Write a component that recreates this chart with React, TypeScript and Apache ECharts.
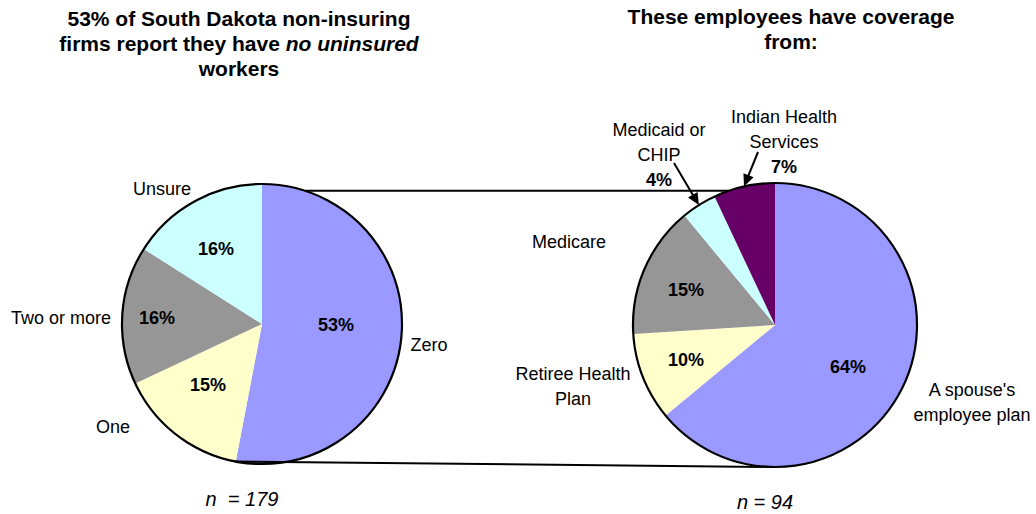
import React, { useEffect, useRef } from 'react';
import * as echarts from 'echarts';

// ---------------- data ----------------
const leftCategories = ['Zero', 'One', 'Two or more', 'Unsure'];
const leftLabelText = ['Zero', 'One', 'Two or more', 'Unsure'];
const leftValues = [53, 15, 16, 16];
const leftN = 179;

const rightCategories = [
  "A spouse's employee plan",
  'Retiree Health Plan',
  'Medicare',
  'Medicaid or CHIP',
  'Indian Health Services',
];
const rightLabelText = [
  "A spouse's\nemployee plan",
  'Retiree Health\nPlan',
  'Medicare',
  'Medicaid or\nCHIP',
  'Indian Health\nServices',
];
const rightValues = [64, 10, 15, 4, 7];
const rightN = 94;

const leftTitle = '53% of South Dakota non-insuring\nfirms report they have {i|no uninsured}\nworkers';
const rightTitle = 'These employees have coverage\nfrom:';

// ---------------- styles / layout ----------------
const FONT = "'Liberation Sans', Arial, Helvetica, sans-serif";
const leftColors = ['#9999FF', '#FFFFCC', '#969696', '#CCFFFF'];
const rightColors = ['#9999FF', '#FFFFCC', '#969696', '#CCFFFF', '#660066'];

const LEFT = { cx: 262, cy: 324, r: 140 };
const RIGHT = { cx: 775, cy: 325, r: 142 };

const leftNamePos: ([number, number] | null)[] = [[429, 345], [113, 427], [61, 318], [162, 189]];
const leftPctPos: ([number, number] | null)[] = [[336, 325], [208, 385], [157, 318], [216, 249]];
const rightNamePos: ([number, number] | null)[] = [[972, 402], [573, 386], [569, 242], [659, 155], [784, 142]];
const rightPctPos: ([number, number] | null)[] = [[848, 367], [686, 360], [686, 290], null, null];
const rightArrowFrom: ([number, number] | null)[] = [null, null, null, [674, 163], [758, 152]];

function midAngle(values: number[], i: number) {
  const total = values.reduce((a, b) => a + b, 0);
  let cum = 0;
  for (let k = 0; k < i; k++) cum += values[k];
  return (360 * (cum + values[i] / 2)) / total;
}
function endAngle(values: number[], i: number) {
  const total = values.reduce((a, b) => a + b, 0);
  let cum = 0;
  for (let k = 0; k <= i; k++) cum += values[k];
  return (360 * cum) / total;
}
function pointAt(p: { cx: number; cy: number; r: number }, deg: number): [number, number] {
  const a = (deg * Math.PI) / 180;
  return [p.cx + p.r * Math.sin(a), p.cy - p.r * Math.cos(a)];
}

function buildPie(
  geo: { cx: number; cy: number; r: number },
  cats: string[],
  labelText: string[],
  values: number[],
  colors: string[],
  namePos: ([number, number] | null)[],
  pctPos: ([number, number] | null)[]
) {
  const common = {
    type: 'pie',
    center: [geo.cx, geo.cy],
    radius: geo.r,
    startAngle: 90,
    clockwise: true,
    avoidLabelOverlap: false,
    silent: true,
    emphasis: { disabled: true },
    labelLine: { show: false },
  };
  const main = {
    ...common,
    z: 2,
    label: {
      position: 'inside',
      formatter: (p: any) => `${p.value}%`,
      color: '#000',
      fontFamily: FONT,
      fontSize: 18,
      fontWeight: 'bold',
    },
    labelLayout: (p: any) => {
      const pos = pctPos[p.dataIndex];
      return pos ? { x: pos[0], y: pos[1], align: 'center', verticalAlign: 'middle' } : {};
    },
    data: values.map((v, i) => ({
      name: cats[i],
      value: v,
      itemStyle: { color: colors[i], borderWidth: 0 },
      label: { show: pctPos[i] != null },
    })),
  };
  const names = {
    ...common,
    z: 3,
    itemStyle: { color: 'rgba(0,0,0,0)', borderWidth: 0 },
    label: {
      position: 'outside',
      formatter: (p: any) =>
        labelText[p.dataIndex] + (pctPos[p.dataIndex] == null ? `\n{b|${p.value}%}` : ''),
      color: '#000',
      fontFamily: FONT,
      fontSize: 18,
      lineHeight: 25,
      align: 'center',
      width: 220,
      overflow: 'none',
      rich: {
        b: { fontFamily: FONT, fontSize: 18, fontWeight: 'bold', color: '#000', lineHeight: 25 },
      },
    },
    labelLayout: (p: any) => {
      const pos = namePos[p.dataIndex];
      return pos ? { x: pos[0], y: pos[1], align: 'center', verticalAlign: 'middle' } : {};
    },
    data: values.map((v, i) => ({ name: cats[i], value: v })),
  };
  const outline = {
    ...common,
    z: 4,
    label: { show: false },
    itemStyle: { color: 'rgba(0,0,0,0)', borderColor: '#000', borderWidth: 2.2 },
    data: [{ name: 'outline', value: 1 }],
  };
  return [main, names, outline];
}

function arrow(from: [number, number], to: [number, number]) {
  const dx = to[0] - from[0];
  const dy = to[1] - from[1];
  const len = Math.hypot(dx, dy);
  const ux = dx / len;
  const uy = dy / len;
  const hl = 12;
  const hw = 5.5;
  const bx = to[0] - ux * hl;
  const by = to[1] - uy * hl;
  const nx = -uy;
  const ny = ux;
  return [
    {
      type: 'line',
      z: 100,
      shape: { x1: from[0], y1: from[1], x2: bx + ux * 2, y2: by + uy * 2 },
      style: { stroke: '#000', lineWidth: 2 },
    },
    {
      type: 'polygon',
      z: 100,
      shape: {
        points: [
          [to[0], to[1]],
          [bx + nx * hw, by + ny * hw],
          [bx - nx * hw, by - ny * hw],
        ],
      },
      style: { fill: '#000' },
    },
  ];
}

export default function App() {
  const ref = useRef<HTMLDivElement>(null);
  useEffect(() => {
    document.body.style.margin = '0';
    if (!ref.current) return;
    const chart = echarts.init(ref.current, undefined, { renderer: 'svg' });

    const topL = pointAt(LEFT, 18);
    const topR = pointAt(RIGHT, 341);
    const botL = pointAt(LEFT, endAngle(leftValues, 0));
    const botR = pointAt(RIGHT, 180);

    const arrows: any[] = [];
    rightArrowFrom.forEach((from, i) => {
      if (from) arrows.push(...arrow(from, pointAt(RIGHT, midAngle(rightValues, i))));
    });

    const titleStyle = {
      fontFamily: FONT,
      fontSize: 21,
      fontWeight: 'bold',
      color: '#000',
      lineHeight: 25,
    };
    const nStyle = {
      fontFamily: FONT,
      fontSize: 20,
      fontWeight: 'normal',
      fontStyle: 'italic',
      color: '#000',
      lineHeight: 24,
    };

    chart.setOption({
      animation: false,
      backgroundColor: '#fff',
      title: [
        {
          text: leftTitle,
          left: 239,
          top: 43,
          textAlign: 'center',
          textVerticalAlign: 'middle',
          padding: 0,
          textStyle: {
            ...titleStyle,
            rich: { i: { ...titleStyle, fontStyle: 'italic' } },
          },
        },
        {
          text: rightTitle,
          left: 791,
          top: 29,
          textAlign: 'center',
          textVerticalAlign: 'middle',
          padding: 0,
          textStyle: titleStyle,
        },
        {
          text: `n  = ${leftN}`,
          left: 242,
          top: 499,
          textAlign: 'center',
          textVerticalAlign: 'middle',
          padding: 0,
          textStyle: nStyle,
        },
        {
          text: `n = ${rightN}`,
          left: 765,
          top: 502,
          textAlign: 'center',
          textVerticalAlign: 'middle',
          padding: 0,
          textStyle: nStyle,
        },
      ],
      series: [
        ...buildPie(LEFT, leftCategories, leftLabelText, leftValues, leftColors, leftNamePos, leftPctPos),
        ...buildPie(RIGHT, rightCategories, rightLabelText, rightValues, rightColors, rightNamePos, rightPctPos),
      ],
      graphic: [
        {
          type: 'line',
          z: 100,
          shape: { x1: topL[0], y1: topL[1], x2: topR[0], y2: topR[1] },
          style: { stroke: '#000', lineWidth: 2 },
        },
        {
          type: 'line',
          z: 100,
          shape: { x1: botL[0], y1: botL[1], x2: botR[0], y2: botR[1] },
          style: { stroke: '#000', lineWidth: 2 },
        },
        ...arrows,
      ],
    });
    return () => chart.dispose();
  }, []);
  return (
    <div
      ref={ref}
      style={{ position: 'fixed', left: 0, top: 0, width: 1036, height: 514, background: '#fff' }}
    />
  );
}
